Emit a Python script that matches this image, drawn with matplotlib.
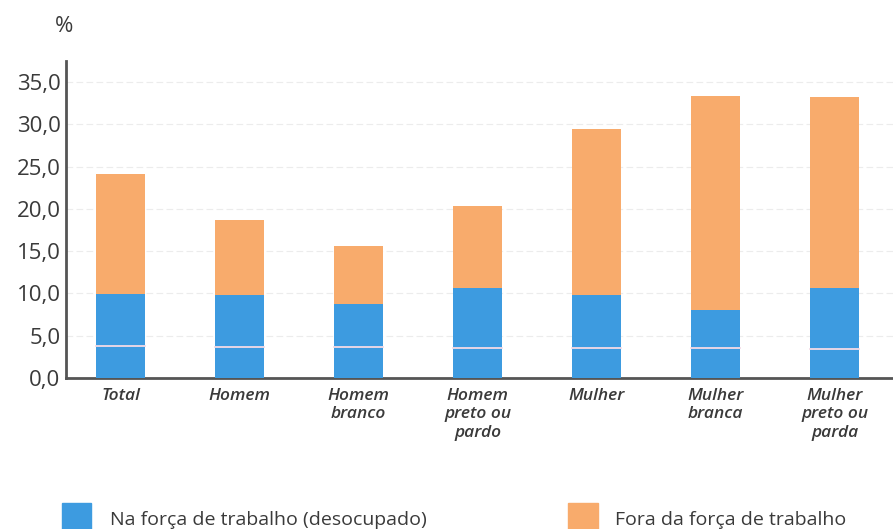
import matplotlib
matplotlib.use("Agg")
import matplotlib.pyplot as plt
from matplotlib.patches import Rectangle
import numpy as np

plt.rcParams['font.family'] = ['Open Sans', 'DejaVu Sans']

categories = ["Total", "Homem", "Homem\nbranco", "Homem\npreto ou\npardo",
              "Mulher", "Mulher\nbranca", "Mulher\npreto ou\nparda"]
# blue segment split in two parts (lower part below the thin light line)
desocupado_inferior = [3.8, 3.7, 3.7, 3.6, 3.5, 3.5, 3.4]
desocupado_total = [9.9, 9.85, 8.7, 10.7, 9.85, 8.1, 10.6]
total_barra = [24.1, 18.7, 15.6, 20.3, 29.5, 33.4, 33.3]
fora = [t - d for t, d in zip(total_barra, desocupado_total)]
desocupado_superior = [d - i for d, i in zip(desocupado_total, desocupado_inferior)]
yticks = [0, 5, 10, 15, 20, 25, 30, 35]
ytick_labels = ["0,0", "5,0", "10,0", "15,0", "20,0", "25,0", "30,0", "35,0"]

BLUE = "#3d9be0"
ORANGE = "#f8ab6c"
TXT = "#3a3a3a"

fig = plt.figure(figsize=(8.93, 5.29), dpi=100)
ax = fig.add_axes([66/893, 1-378/529, 1-66/893, (378-61)/529])

x = np.arange(len(categories))
w = 0.41
ax.bar(x, desocupado_inferior, width=w, color=BLUE, zorder=3)
ax.bar(x, desocupado_superior, width=w, bottom=desocupado_inferior, color=BLUE, zorder=3)
ax.bar(x, fora, width=w, bottom=desocupado_total, color=ORANGE, zorder=3)
for xi, yi in zip(x, desocupado_inferior):
    ax.plot([xi - w/2, xi + w/2], [yi, yi], color="#f4dbe6", lw=1.3, zorder=4)

ax.set_xlim(-0.46, 6.49)
ax.set_ylim(0, 37.5)
ax.set_yticks(yticks)
ax.set_yticklabels(ytick_labels, fontsize=16, color=TXT)
ax.set_xticks(x)
ax.set_xticklabels(categories, fontsize=12.5, color=TXT, style='italic',
                   fontweight='semibold', linespacing=1.2)
ax.tick_params(axis='x', length=0, pad=7)
ax.tick_params(axis='y', length=0, pad=4)

for s in ["top", "right"]:
    ax.spines[s].set_visible(False)
ax.spines["left"].set_color("#555555")
ax.spines["left"].set_linewidth(2)
ax.spines["bottom"].set_color("#555555")
ax.spines["bottom"].set_linewidth(2)

ax.yaxis.grid(True, color="#ececec", linestyle=(0, (6, 3)), linewidth=0.8, zorder=0)

fig.text(55/893, 1-26/529, "%", fontsize=16, color=TXT, ha="left", va="center")

# legend
fig.add_artist(Rectangle((62/893, 0), 29/893, 26/529, transform=fig.transFigure,
                         color=BLUE, clip_on=False))
fig.text(110/893, 1-520/529, "Na força de trabalho (desocupado)", fontsize=14,
         color=TXT, ha="left", va="center")
fig.add_artist(Rectangle((568/893, 0), 30/893, 26/529, transform=fig.transFigure,
                         color=ORANGE, clip_on=False))
fig.text(615/893, 1-520/529, "Fora da força de trabalho", fontsize=14,
         color=TXT, ha="left", va="center")

fig.savefig("out.png", dpi=100)
